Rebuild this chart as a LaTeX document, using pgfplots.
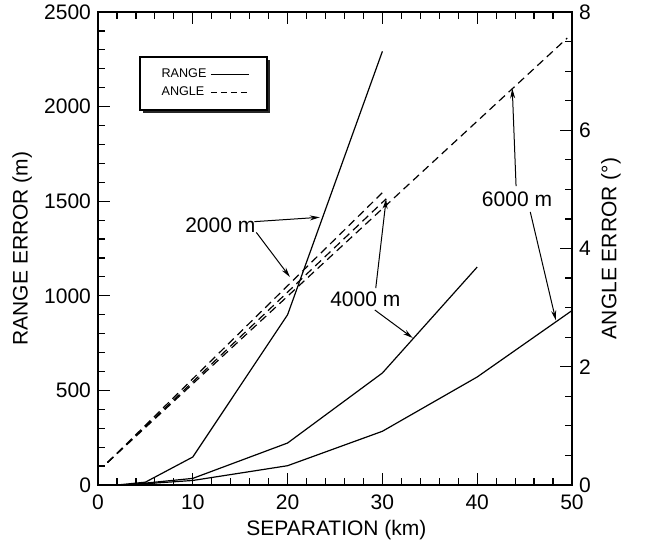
\documentclass[border=0pt]{standalone}
\usepackage{fontspec}
\setmainfont{Liberation Sans}
\usepackage{pgfplots}
\pgfplotsset{compat=1.18}
\usetikzlibrary{arrows.meta}

\begin{document}
\begin{tikzpicture}[font=\fontsize{10.5}{12}\selectfont]
\pgfplotsset{
  every axis/.append style={
    scale only axis, width=237pt, height=236.5pt,
    xmin=0, xmax=50,
    /pgf/number format/assume math mode=true,
    /pgf/number format/1000 sep={},
    tick label style={font=\fontsize{10.5}{12}\selectfont},
    label style={font=\fontsize{10.5}{12}\selectfont},
    axis line style={line width=0.8pt},
    tick style={line width=0.6pt, black},
    major tick length=6pt, minor tick length=3.5pt,
    tick align=inside,
    cycle list={{black}},
  },
  every axis plot/.append style={black, line width=0.6pt, no marks},
}
% range error (solid)
\begin{axis}[name=ax,
  ymin=0, ymax=2500,
  xtick={0,10,...,50}, minor x tick num=4,
  ytick={0,500,...,2500}, minor y tick num=4,
  xtick pos=both, ytick pos=left,
  xticklabel style={yshift=-1.2pt},
  xlabel={SEPARATION (km)}, ylabel={RANGE ERROR (m)},
  xlabel style={at={(axis description cs:0.503,-0.095)}, anchor=center},
  ylabel style={at={(axis description cs:-0.16,0.5)}, anchor=center},
]
% 2000 m
\addplot coordinates {(2,0) (5,15) (10,148) (20,900) (30,2292)};
% 4000 m
\addplot coordinates {(3,0) (10,35) (20,222) (30,592) (40,1152)};
% 6000 m
\addplot coordinates {(3,0) (10,24) (20,102) (30,284) (40,571) (50,922)};

\node at (axis cs:12.9,1374) {2000 m};
\draw[-{Stealth[length=5pt,width=2.5pt]}, line width=0.5pt] (axis cs:16.5,1392) -- (axis cs:23.4,1415);
\draw[-{Stealth[length=5pt,width=2.5pt]}, line width=0.5pt] (axis cs:16.7,1335) -- (axis cs:20.25,1099);
\node at (axis cs:28.2,983) {4000 m};
\draw[-{Stealth[length=5pt,width=2.5pt]}, line width=0.5pt] (axis cs:29.3,1041) -- (axis cs:30.4,1512);
\draw[-{Stealth[length=5pt,width=2.5pt]}, line width=0.5pt] (axis cs:29.2,925) -- (axis cs:33.2,777);
\node at (axis cs:44.2,1512) {6000 m};
\draw[-{Stealth[length=5pt,width=2.5pt]}, line width=0.5pt] (axis cs:44.1,1580) -- (axis cs:43.7,2096);
\draw[-{Stealth[length=5pt,width=2.5pt]}, line width=0.5pt] (axis cs:45.6,1443) -- (axis cs:48.3,870);

% legend frame with its shadow
\fill[black!85] ([xshift=1.3pt,yshift=-1.3pt]axis description cs:0.0886,0.905) rectangle ([xshift=1.3pt,yshift=-1.3pt]axis description cs:0.3565,0.793);
\draw[fill=white, line width=0.6pt] (axis description cs:0.0886,0.905) rectangle (axis description cs:0.3565,0.793);
\end{axis}

% angle error (dashed)
\begin{axis}[
  ymin=0, ymax=8,
  axis x line=none, axis y line*=right,
  ytick={0,2,...,8}, minor y tick num=3,
  tick align=inside,
  ylabel={ANGLE ERROR (°)},
  ylabel style={at={(axis description cs:1.082,0.5)}, anchor=center},
  legend style={at={(axis description cs:0.2226,0.849)}, anchor=center,
    draw=none, fill=none,
    font=\fontsize{6.3}{6.6}\selectfont,
    legend plot pos=right, legend cell align=left,
    row sep=-1pt},
  legend image code/.code={\draw[#1, line width=0.5pt] (0pt,0pt) -- (19pt,0pt);},
  every axis plot/.append style={dash pattern=on 4pt off 2.5pt},
]
\addlegendimage{solid}
\addlegendentry{RANGE}
\addlegendimage{dash pattern=on 3pt off 2pt}
\addlegendentry{ANGLE}
% 2000 m
\addplot coordinates {(1,0.38) (30.1,4.96)};
% 4000 m
\addplot coordinates {(1,0.38) (30.4,4.84)};
% 6000 m
\addplot coordinates {(1,0.38) (49.5,7.56)};
\end{axis}

\pgfresetboundingbox
\path ([xshift=-49pt,yshift=-31.5pt]ax.south west) rectangle ([xshift=38.5pt,yshift=6pt]ax.north east);
\end{tikzpicture}
\end{document}
